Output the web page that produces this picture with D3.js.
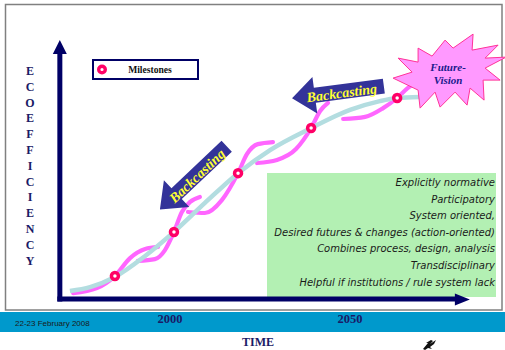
<!DOCTYPE html>
<html><head><meta charset="utf-8">
<script src="https://cdn.jsdelivr.net/npm/d3@7"></script>
<style>html,body{margin:0;padding:0;background:#fff;overflow:hidden}</style>
</head><body><svg id="c" width="505" height="350"></svg>
<script>
// ---------- data ----------
const yAxisLetters = ["E","C","O","E","F","F","I","C","I","E","N","C","Y"];
const tickYears = [2000, 2050];
const tickLabels = ["2000", "2050"];

// smooth eco-efficiency trend (light blue)
const trendYears  = [1972.2, 1977.8, 1984.7, 1993.1, 2001.1, 2009.7, 2018.9, 2027.8, 2039.2, 2050.0, 2058.3, 2063.1, 2069.4];
const trendValues = [3.1, 4.6, 8.5, 16.6, 25.9, 37.1, 48.6, 57.5, 66.0, 73.0, 76.4, 77.6, 78.0];

// milestones
const milestoneYears  = [1984.7, 2001.1, 2018.9, 2039.2, 2063.1];
const milestoneValues = [8.9, 25.9, 48.6, 66.0, 77.6];

// wavy pathway segments (pink)
const pathwayYears = [
  [1973.1, 1979.7, 1984.7, 1988.9, 1993.1, 1996.7],
  [1991.1, 1995.8, 1998.6, 2001.1, 2003.3, 2005.6, 2008.3],
  [2005.0, 2009.7, 2014.4, 2018.9, 2021.4, 2024.4, 2028.6],
  [2024.2, 2029.7, 2035.0, 2039.2, 2041.7, 2043.9],
  [2048.1, 2054.2, 2059.2, 2063.1, 2066.1, 2068.1]
];
const pathwayValues = [
  [2.3, 4.2, 8.9, 15.8, 19.3, 20.1],
  [14.7, 15.4, 18.9, 25.9, 33.6, 37.5, 39.4],
  [33.6, 33.2, 38.2, 48.6, 56.0, 59.8, 60.6],
  [52.5, 53.7, 57.9, 66.0, 72.6, 75.7],
  [69.5, 70.3, 73.7, 77.6, 81.5, 83.4]
];

// backcasting arrows: tip and tail in (year, value)
const arrowTipYears  = [1997.2, 2033.9];
const arrowTipValues = [34.6, 77.5];
const arrowTailYears  = [2015.75, 2059.4];
const arrowTailValues = [59.0, 82.2];
const arrowLabel = "Backcasting";

// future vision burst
const visionYear = 2077.8, visionValue = 87.6;
const visionLines = ["Future-", "Vision"];

const notes = [
  "Explicitly normative",
  "Participatory",
  "System oriented,",
  "Desired futures & changes (action-oriented)",
  "Combines process, design, analysis",
  "Transdisciplinary",
  "Helpful if institutions / rule system lack"
];
const legendLabel = "Milestones";
const xTitle = "TIME";
const dateText = "22-23 February 2008";

// ---------- drawing ----------
const svg = d3.select("#c");
const NAVY = "#000066";
const x = d3.scaleLinear().domain([2000, 2050]).range([170, 350]);
const y = d3.scaleLinear().domain([0, 100]).range([299, 40]);
const xAxisStart = 1969.4, xAxisEnd = 2083.3;

// slide frame
svg.append("rect").attr("x", 5.5).attr("y", 4.5).attr("width", 496.5).attr("height", 305.5)
  .attr("fill", "#fff").attr("stroke", "#808080").attr("stroke-width", 1.5);

// bottom band
svg.append("rect").attr("x", 0).attr("y", 312).attr("width", 505).attr("height", 20).attr("fill", "#0099cc");
svg.append("text").attr("x", 15).attr("y", 325.5).text(dateText)
  .attr("font-family", "Liberation Sans, Arial, sans-serif").attr("font-size", 8).attr("fill", "#1a1a1a");
svg.selectAll("text.tick").data(tickYears).join("text").attr("class", "tick")
  .attr("x", d => x(d)).attr("y", 323).attr("text-anchor", "middle")
  .text((d, i) => tickLabels[i])
  .attr("font-family", "Liberation Serif, Times New Roman, serif").attr("font-weight", "bold")
  .attr("font-size", 12.5).attr("fill", "#1a1a66");
svg.append("text").attr("x", 258).attr("y", 346).attr("text-anchor", "middle").text(xTitle)
  .attr("font-family", "Liberation Serif, Times New Roman, serif").attr("font-weight", "bold")
  .attr("font-size", 12).attr("fill", "#1a1a66");

// small logo glyph
svg.append("path").attr("d", "M423,349 L428,343 L426,343 L431,340 L433,341 L430,344 L436,340 L434,344 L430,347 L432,349 L428,348 L425,350 Z")
  .attr("fill", "#111");

// green note box
svg.append("rect").attr("x", 267).attr("y", 173).attr("width", 229).attr("height", 124).attr("fill", "#b3f0b3");
svg.selectAll("text.note").data(notes).join("text").attr("class", "note")
  .attr("x", 495).attr("y", (d, i) => 186 + i * 16.6).attr("text-anchor", "end").text(d => d)
  .attr("font-family", "DejaVu Sans, Verdana, sans-serif").attr("font-style", "italic")
  .attr("font-size", 10).attr("fill", "#1a1a1a");

// axes
const ax = svg.append("g").attr("fill", NAVY).attr("stroke", "none");
const x0 = x(xAxisStart), y0 = y(0);
ax.append("rect").attr("x", x0 - 2.5).attr("y", y(100) + 12).attr("width", 5).attr("height", y0 + 2.5 - y(100) - 12);
ax.append("path").attr("d", d3.line()([[x0, y(100)], [x0 + 7, y(100) + 14], [x0 - 7, y(100) + 14]]) + "Z");
ax.append("rect").attr("x", x0 - 2.5).attr("y", y0 - 2.5).attr("width", x(xAxisEnd) - 14 - x0 + 2.5).attr("height", 5);
ax.append("path").attr("d", d3.line()([[x(xAxisEnd), y0 + 0.5], [x(xAxisEnd) - 15, y0 - 5.5], [x(xAxisEnd) - 15, y0 + 6.5]]) + "Z");

// y letters
svg.selectAll("text.yl").data(yAxisLetters).join("text").attr("class", "yl")
  .attr("x", 30).attr("y", (d, i) => 75 + i * 15.8).attr("text-anchor", "middle").text(d => d)
  .attr("font-family", "Liberation Serif, Times New Roman, serif").attr("font-weight", "bold")
  .attr("font-size", 12).attr("fill", "#1a1a66");

// legend
svg.append("rect").attr("x", 93).attr("y", 60).attr("width", 105).attr("height", 19)
  .attr("fill", "#fff").attr("stroke", NAVY).attr("stroke-width", 2);
svg.append("circle").attr("cx", 102).attr("cy", 69.5).attr("r", 3.3)
  .attr("fill", "#fff").attr("stroke", "#ff0066").attr("stroke-width", 3.4);
svg.append("text").attr("x", 150).attr("y", 73).attr("text-anchor", "middle").text(legendLabel)
  .attr("font-family", "Liberation Serif, Times New Roman, serif").attr("font-weight", "bold")
  .attr("font-size", 9.6).attr("fill", "#111");

// curves
const lineGen = d3.line().x(d => x(d[0])).y(d => y(d[1])).curve(d3.curveMonotoneX);
const segs = pathwayYears.map((ys, k) => ys.map((yr, i) => [yr, pathwayValues[k][i]]));
svg.selectAll("path.pw").data(segs).join("path").attr("class", "pw")
  .attr("d", lineGen).attr("fill", "none").attr("stroke", "#ff66ff")
  .attr("stroke-width", 4.2).attr("stroke-linecap", "round");
svg.append("path").datum(trendYears.map((yr, i) => [yr, trendValues[i]]))
  .attr("d", lineGen).attr("fill", "none").attr("stroke", "#b3dde0")
  .attr("stroke-width", 4.5).attr("stroke-linecap", "butt");

// future vision burst (decorative outline offsets around its centre)
const burst = [[-32,-24],[-18,-16],[-5,-32],[3,-24],[23,-38],[22,-22],[48,-27],[35,-14],[56,-15],[35,-4],
  [50,8],[33,8],[34,28],[20,16],[17,33],[5,20],[-10,35],[-15,20],[-30,36],[-32,18],[-57,6],[-38,0],[-52,-14],[-32,-10]];
const vc = [x(visionYear), y(visionValue)];
svg.append("path").attr("d", d3.line()(burst.map(p => [vc[0] + p[0], vc[1] + p[1]])) + "Z")
  .attr("fill", "#ff99ff").attr("stroke", "#ff3399").attr("stroke-width", 1);
svg.selectAll("text.fv").data(visionLines).join("text").attr("class", "fv")
  .attr("x", vc[0] - 2).attr("y", (d, i) => vc[1] - 1.5 + i * 13.5).attr("text-anchor", "middle").text(d => d)
  .attr("font-family", "Liberation Serif, Times New Roman, serif").attr("font-weight", "bold")
  .attr("font-style", "italic").attr("font-size", 11).attr("fill", "#1a1a8c");

// milestones
svg.selectAll("circle.ms").data(milestoneYears).join("circle").attr("class", "ms")
  .attr("cx", d => x(d)).attr("cy", (d, i) => y(milestoneValues[i])).attr("r", 3.5)
  .attr("fill", "#fff").attr("stroke", "#ff0066").attr("stroke-width", 3.5);

// backcasting arrows
arrowTipYears.forEach((ty, i) => {
  const p0 = [x(ty), y(arrowTipValues[i])];
  const p1 = [x(arrowTailYears[i]), y(arrowTailValues[i])];
  const L = Math.hypot(p1[0] - p0[0], p1[1] - p0[1]);
  const ang = Math.atan2(p1[1] - p0[1], p1[0] - p0[0]) * 180 / Math.PI;
  const hl = 23, hw = 18.5, bw = 7.5;
  const g = svg.append("g").attr("transform", `translate(${p0[0]},${p0[1]}) rotate(${ang})`);
  g.append("path").attr("d", d3.line()([[0,0],[hl,-hw],[hl,-bw],[L,-bw],[L,bw],[hl,bw],[hl,hw]]) + "Z")
    .attr("fill", "#333399");
  g.append("text").attr("x", 50).attr("y", 6).attr("text-anchor", "middle").text(arrowLabel)
    .attr("font-family", "Liberation Serif, Times New Roman, serif").attr("font-weight", "bold")
    .attr("font-style", "italic").attr("font-size", 14).attr("fill", "#ffff33");
});
</script></body></html>
